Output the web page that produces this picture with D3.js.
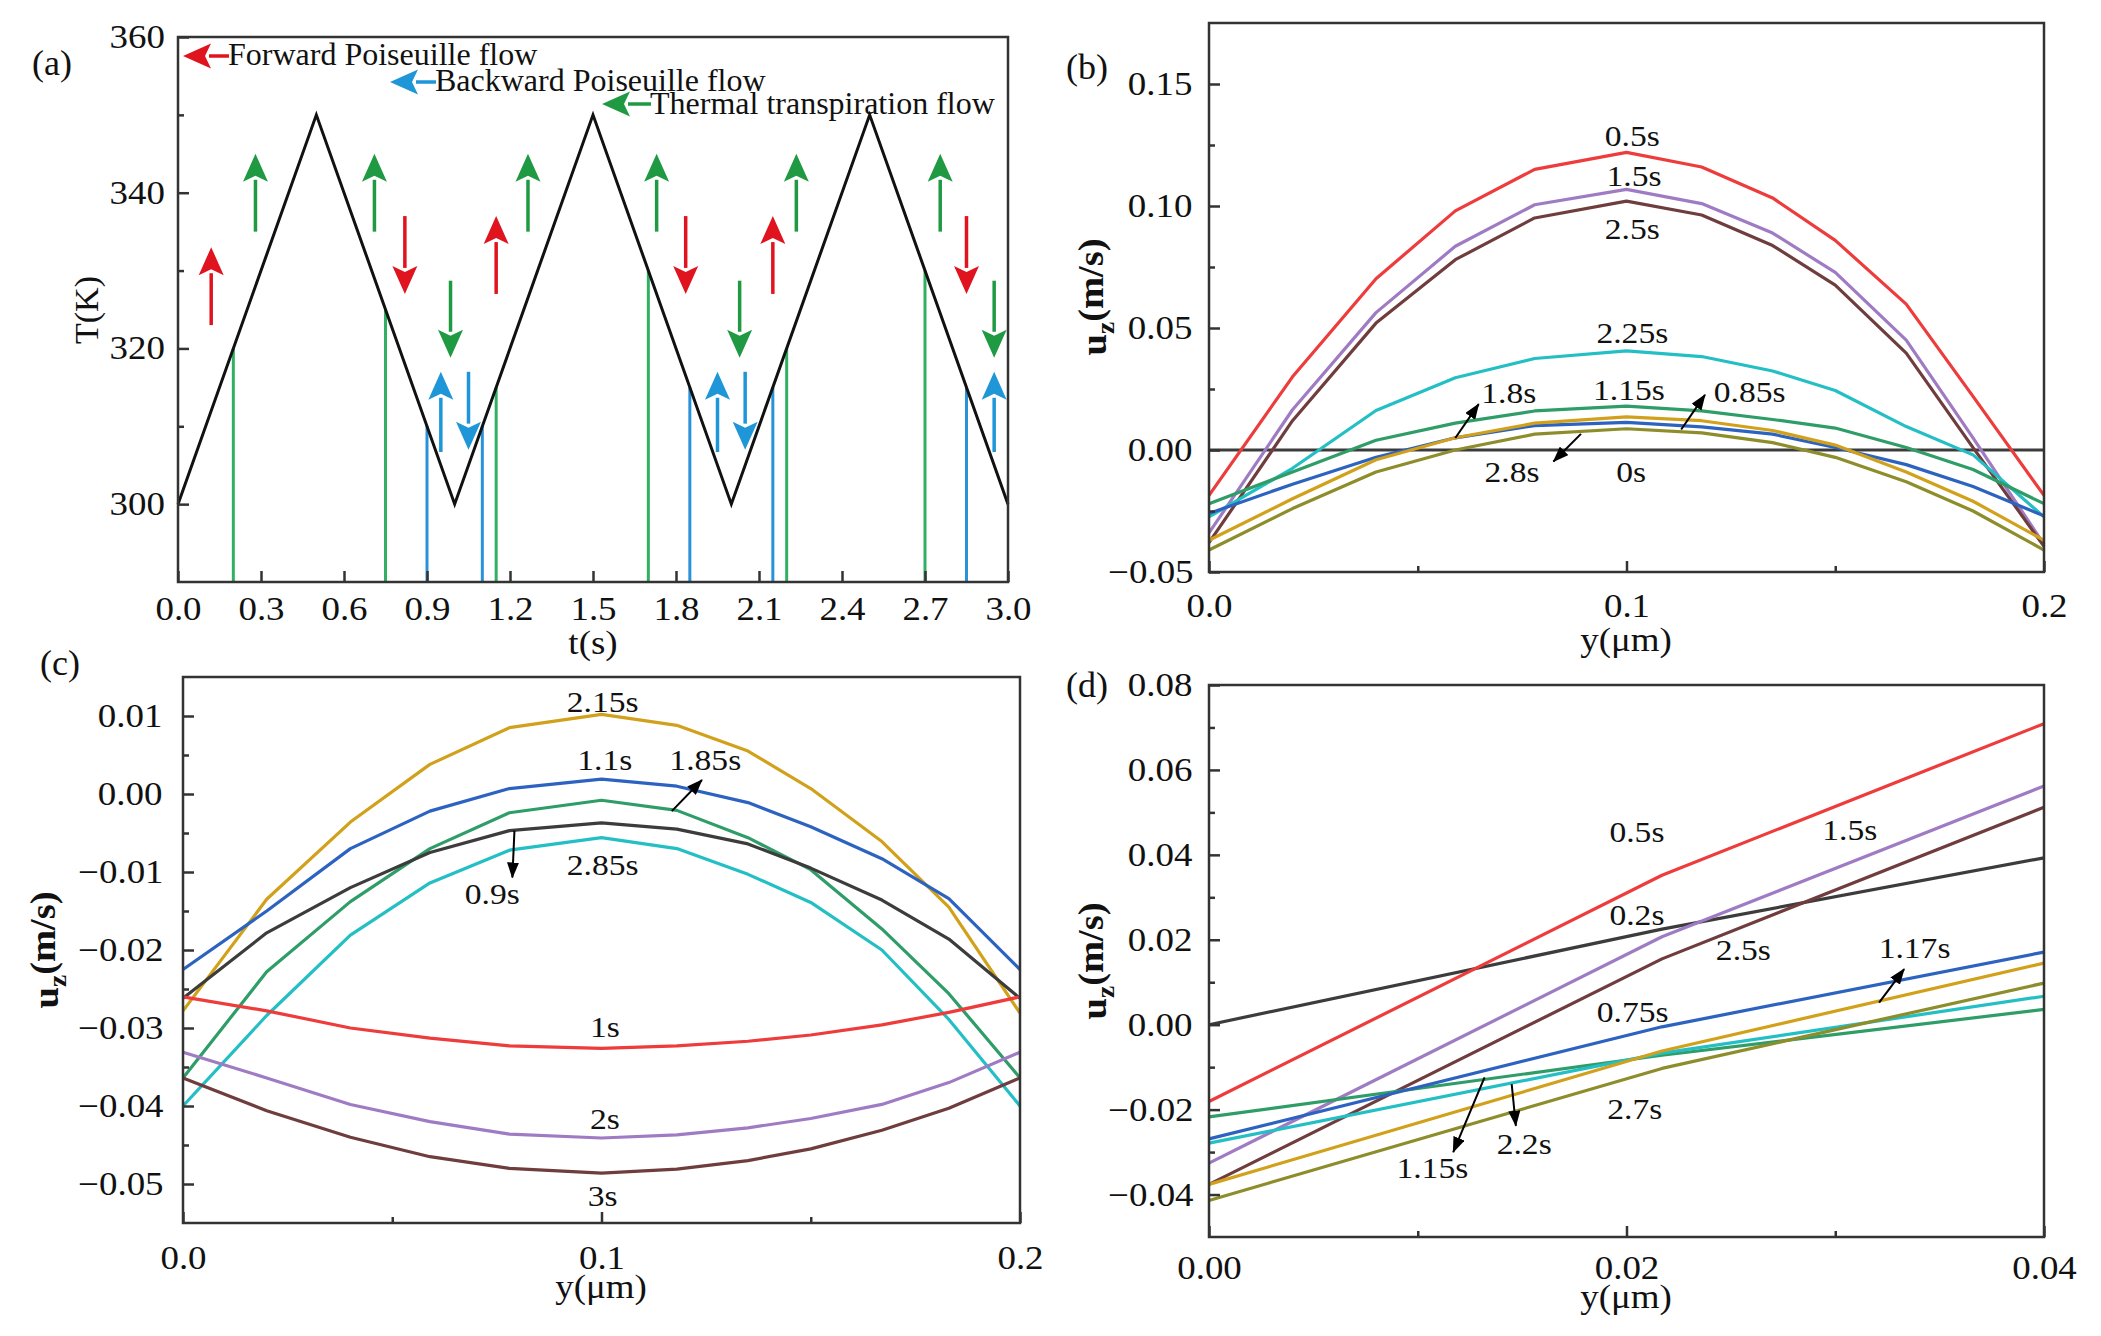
<!DOCTYPE html>
<html>
<head>
<meta charset="utf-8">
<script src="https://cdn.jsdelivr.net/npm/d3@7"></script>
<style>
  body { margin: 0; background: #fff; }
  svg text { font-family: "Liberation Serif", "Times New Roman", serif; fill: #111; }
  .sx { transform-box: fill-box; transform-origin: center; transform: scaleX(1.12); }
</style>
</head>
<body>
<div id="chart"></div>
<script>
// ---------- data ----------
// (a) temperature triangle wave
const tKnots = [0, 0.5, 1, 1.5, 2, 2.5, 3];
const tempKnots = [300, 350, 300, 350, 300, 350, 300];
// vertical marker lines (time, temperature reached)
const greenT = [0.2, 0.75, 1.15, 1.7, 2.2, 2.7];
const greenTop = [320, 325, 315, 330, 320, 330];
const blueT = [0.9, 1.1, 1.85, 2.15, 2.85];
const blueTop = [310, 310, 315, 315, 315];
// flow arrows: time, start T, end T, kind
const arrowT    = [0.12, 0.28, 0.71, 0.82, 0.985, 0.95, 1.05, 1.15, 1.265, 1.73, 1.835, 2.03, 1.95, 2.05, 2.15, 2.235, 2.755, 2.85, 2.95, 2.95];
const arrowFrom = [323, 335, 335, 337, 328.7, 306.7, 317, 327, 335, 335, 337, 328.7, 306.7, 317, 327, 335, 335, 337, 328.7, 306.7];
const arrowTo   = [333, 345, 345, 327, 318.8, 317, 307, 337, 345, 345, 327, 318.8, 317, 307, 337, 345, 345, 327, 318.8, 317];
const arrowKind = ["fwd","th","th","fwd","th","bwd","bwd","fwd","th","th","fwd","th","bwd","bwd","fwd","th","th","fwd","th","bwd"];
const legendNames = ["Forward Poiseuille flow", "Backward Poiseuille flow", "Thermal transpiration flow"];

// (b) and (c) share the wall-normal grid
const yGrid = [0, 0.02, 0.04, 0.059, 0.078, 0.1, 0.118, 0.135, 0.15, 0.167, 0.183, 0.2];

const b0s   = [0, 0, 0, 0, 0, 0, 0, 0, 0, 0, 0, 0];
const b05s  = [-0.0186, 0.030, 0.0702, 0.098, 0.115, 0.122, 0.116, 0.1033, 0.0859, 0.0598, 0.022, -0.0186];
const b15s  = [-0.034, 0.0165, 0.0563, 0.0835, 0.1005, 0.1068, 0.101, 0.0889, 0.0728, 0.045, 0.005, -0.0387];
const b25s  = [-0.038, 0.012, 0.052, 0.078, 0.0951, 0.102, 0.0963, 0.0838, 0.0676, 0.0397, 0.001, -0.0395];
const b225s = [-0.0274, -0.0075, 0.0162, 0.0296, 0.0375, 0.0406, 0.0383, 0.0324, 0.0244, 0.0096, -0.002, -0.0274];
const b115s = [-0.022, -0.009, 0.004, 0.011, 0.016, 0.018, 0.016, 0.0125, 0.009, 0.001, -0.008, -0.022];
const b18s  = [-0.037, -0.020, -0.004, 0.005, 0.011, 0.0136, 0.012, 0.008, 0.002, -0.009, -0.021, -0.037];
const b085s = [-0.026, -0.014, -0.003, 0.005, 0.010, 0.0113, 0.0095, 0.0065, 0.001, -0.006, -0.015, -0.027];
const b28s  = [-0.041, -0.024, -0.009, 0.0, 0.0065, 0.0087, 0.007, 0.003, -0.003, -0.013, -0.025, -0.041];

const c215s = [-0.0278, -0.0135, -0.0036, 0.0038, 0.0085, 0.0102, 0.0088, 0.0055, 0.0007, -0.0061, -0.0145, -0.0281];
const c11s  = [-0.0225, -0.015, -0.007, -0.0022, 0.0007, 0.0019, 0.001, -0.0011, -0.0042, -0.0083, -0.0134, -0.0225];
const c185s = [-0.0364, -0.0228, -0.0138, -0.007, -0.0024, -0.0008, -0.0021, -0.0056, -0.0097, -0.0173, -0.0256, -0.0364];
const c09s  = [-0.0262, -0.0178, -0.012, -0.0075, -0.0047, -0.0037, -0.0045, -0.0064, -0.0095, -0.0136, -0.0186, -0.0262];
const c285s = [-0.040, -0.0284, -0.0181, -0.0114, -0.0072, -0.0056, -0.007, -0.0103, -0.0139, -0.020, -0.0289, -0.040];
const c1s   = [-0.026, -0.0278, -0.030, -0.0313, -0.0323, -0.0326, -0.0323, -0.0317, -0.0309, -0.0296, -0.028, -0.026];
const c2s   = [-0.0331, -0.0364, -0.0398, -0.042, -0.0436, -0.0441, -0.0437, -0.0428, -0.0416, -0.0398, -0.037, -0.0331];
const c3s   = [-0.0364, -0.0406, -0.044, -0.0465, -0.048, -0.0486, -0.0481, -0.047, -0.0455, -0.0431, -0.0403, -0.0364];

// (d) near-wall region
const yNear = [0, 0.0217, 0.04];
const d02s  = [0.0, 0.0225, 0.0393];
const d05s  = [-0.0181, 0.0352, 0.0709];
const d15s  = [-0.0326, 0.0207, 0.0562];
const d25s  = [-0.0376, 0.0155, 0.0512];
const d075s = [-0.0269, -0.0005, 0.0171];
const d22s  = [-0.0376, -0.0062, 0.0145];
const d27s  = [-0.0414, -0.0103, 0.0098];
const d115s = [-0.0279, -0.0067, 0.0067];
const d117s = [-0.0217, -0.0072, 0.0036];

// colours
const cRed = "#ee3b3b", cPurple = "#9f7bc4", cBrown = "#6f3d3d", cCyan = "#23bfc4",
      cGreen = "#2f9d68", cBlue = "#2d63c0", cGold = "#d2a11b", cOlive = "#8d8d2b", cBlack = "#3c3c3c";
const serif = "'Liberation Serif', 'Times New Roman', serif";

// ---------- svg ----------
const W = 2101, H = 1336;
const svg = d3.select("#chart").append("svg")
    .attr("width", W).attr("height", H)
    .style("background", "#fff");

const defs = svg.append("defs");
defs.append("marker")
    .attr("id", "blk")
    .attr("markerUnits", "userSpaceOnUse")
    .attr("markerWidth", 16).attr("markerHeight", 12)
    .attr("refX", 15).attr("refY", 6)
    .attr("orient", "auto")
  .append("path")
    .attr("d", "M0,0 L16,6 L0,12 Z")
    .attr("fill", "#000");

function makePanel(box, xDom, yDom) {
  const g = svg.append("g");
  const x = d3.scaleLinear().domain(xDom).range([box.l, box.r]);
  const y = d3.scaleLinear().domain(yDom).range([box.b, box.t]);
  return { g, x, y, box };
}

function styleAxis(sel) {
  sel.attr("font-family", serif).attr("font-size", 33);
  sel.select(".domain").remove();
  sel.selectAll("line").attr("stroke", "#333").attr("stroke-width", 2.5);
  sel.selectAll("text").attr("class", "sx").attr("fill", "#111").style("font-family", serif);
}

function axes(p, o) {
  const { g, x, y, box } = p;
  // minor ticks first
  g.append("g").attr("transform", `translate(0,${box.b})`)
    .call(d3.axisBottom(x).tickValues(o.xMinor).tickFormat("").tickSize(-6))
    .call(styleAxis);
  g.append("g").attr("transform", `translate(${box.l},0)`)
    .call(d3.axisLeft(y).tickValues(o.yMinor).tickFormat("").tickSize(-6))
    .call(styleAxis);
  g.append("g").attr("transform", `translate(0,${box.b})`)
    .call(d3.axisBottom(x).tickValues(o.xMajor).tickFormat(d3.format(o.xFmt)).tickSize(-11).tickPadding(o.xPad))
    .call(styleAxis);
  g.append("g").attr("transform", `translate(${box.l},0)`)
    .call(d3.axisLeft(y).tickValues(o.yMajor).tickFormat(d3.format(o.yFmt)).tickSize(-11).tickPadding(o.yPad))
    .call(styleAxis);
}

function frame(p) {
  const b = p.box;
  p.g.append("rect")
    .attr("x", b.l).attr("y", b.t)
    .attr("width", b.r - b.l).attr("height", b.b - b.t)
    .attr("fill", "none").attr("stroke", "#333").attr("stroke-width", 2.5);
}

function xTitle(p, txt, cx, baseline) {
  p.g.append("text").attr("x", cx).attr("y", baseline)
    .attr("text-anchor", "middle").attr("font-size", 33).attr("class", "sx")
    .style("font-family", serif)
    .text(txt);
}

function uzTitle(p, cx, cy) {
  const t = p.g.append("g").attr("transform", `translate(${cx},${cy}) rotate(-90) scale(1.1,1)`)
    .append("text").attr("text-anchor", "middle").attr("dy", "0.35em")
    .attr("font-size", 35).attr("font-weight", "bold").style("font-family", serif);
  t.append("tspan").text("u");
  t.append("tspan").attr("dy", "0.3em").attr("font-size", 25).text("z");
  t.append("tspan").attr("dy", "-0.3em").text("(m/s)");
}

function panelTag(txt, x, y) {
  svg.append("text").attr("x", x).attr("y", y).attr("font-size", 36)
    .attr("text-anchor", "middle").style("font-family", serif).text(txt);
}

function drawCurves(p, xs, series) {
  const line = d3.line().x((d, i) => p.x(xs[i])).y(d => p.y(d));
  p.g.append("g").selectAll("path")
    .data(series)
    .join("path")
      .attr("d", s => line(s.values))
      .attr("fill", "none")
      .attr("stroke", s => s.color)
      .attr("stroke-width", 3.2)
      .attr("stroke-linejoin", "round");
}

function curveLabels(p, labels) {
  p.g.append("g").selectAll("text")
    .data(labels)
    .join("text")
      .attr("x", d => p.x(d[1]))
      .attr("y", d => p.y(d[2]))
      .attr("dy", "0.35em")
      .attr("text-anchor", "middle")
      .attr("font-size", 30)
      .attr("class", "sx")
      .style("font-family", serif)
      .text(d => d[0]);
}

function pointers(p, arr) {
  p.g.append("g").selectAll("line")
    .data(arr)
    .join("line")
      .attr("x1", d => p.x(d[0])).attr("y1", d => p.y(d[1]))
      .attr("x2", d => p.x(d[2])).attr("y2", d => p.y(d[3]))
      .attr("stroke", "#000").attr("stroke-width", 2)
      .attr("marker-end", "url(#blk)");
}

// filled-head arrow for panel (a)
function fatArrow(g, x1, y1, x2, y2, color) {
  const len = Math.hypot(x2 - x1, y2 - y1);
  const ux = (x2 - x1) / len, uy = (y2 - y1) / len;
  const hl = 28, hw = 12.5;
  const bx = x2 - ux * hl, by = y2 - uy * hl;
  g.append("line")
    .attr("x1", x1).attr("y1", y1).attr("x2", bx + ux * 2).attr("y2", by + uy * 2)
    .attr("stroke", color).attr("stroke-width", 3.5);
  g.append("path")
    .attr("d", `M${x2},${y2} L${bx - uy * hw},${by + ux * hw} L${bx + ux * 6},${by + uy * 6} L${bx + uy * hw},${by - ux * hw} Z`)
    .attr("fill", color);
}

// ---------- panel (a) ----------
{
  const p = makePanel({ l: 178, r: 1008, t: 37, b: 582 }, [0, 3], [290, 360]);
  const arrowColor = { fwd: "#e0141f", bwd: "#1e96d8", th: "#1f9a42" };

  // vertical marker lines
  p.g.append("g").selectAll("line")
    .data(greenT)
    .join("line")
      .attr("x1", d => p.x(d)).attr("x2", d => p.x(d))
      .attr("y1", p.y(290)).attr("y2", (d, i) => p.y(greenTop[i]))
      .attr("stroke", "#2fb062").attr("stroke-width", 3);
  p.g.append("g").selectAll("line")
    .data(blueT)
    .join("line")
      .attr("x1", d => p.x(d)).attr("x2", d => p.x(d))
      .attr("y1", p.y(290)).attr("y2", (d, i) => p.y(blueTop[i]))
      .attr("stroke", "#2a92da").attr("stroke-width", 3);

  // temperature
  p.g.append("path")
    .datum(tKnots)
    .attr("d", d3.line().x(d => p.x(d)).y((d, i) => p.y(tempKnots[i])))
    .attr("fill", "none").attr("stroke", "#111").attr("stroke-width", 3);

  // flow arrows
  const ag = p.g.append("g");
  arrowT.forEach((t, i) => {
    fatArrow(ag, p.x(t), p.y(arrowFrom[i]), p.x(t), p.y(arrowTo[i]), arrowColor[arrowKind[i]]);
  });

  axes(p, {
    xMajor: d3.range(0, 11).map(i => i * 0.3), xMinor: [], xFmt: ".1f", xPad: 15,
    yMajor: [300, 320, 340, 360], yMinor: [310, 330, 350], yFmt: "d", yPad: 16
  });
  frame(p);

  // legend
  const lg = svg.append("g");
  const legendPos = [[183, 228, 56, 65], [390, 435, 82, 91], [602, 650, 104, 114]];
  const legendColor = [arrowColor.fwd, arrowColor.bwd, arrowColor.th];
  legendNames.forEach((name, i) => {
    const [tip, tail, ay, base] = legendPos[i];
    fatArrow(lg, tail + 1, ay, tip, ay, legendColor[i]);
    lg.append("text").attr("x", tail).attr("y", base).attr("font-size", 32)
      .style("font-family", serif).text(name);
  });

  xTitle(p, "t(s)", 593, 654);
  p.g.append("g").attr("transform", "translate(86,310) rotate(-90)")
    .append("text").attr("text-anchor", "middle").attr("dy", "0.35em")
    .attr("font-size", 34).style("font-family", serif).text("T(K)");
  panelTag("(a)", 52, 75);
}

// ---------- panel (b) ----------
{
  const p = makePanel({ l: 1209, r: 2044, t: 23, b: 572 }, [0, 0.2], [-0.05, 0.175]);
  drawCurves(p, yGrid, [
    { color: cBlack, values: b0s },
    { color: cRed, values: b05s },
    { color: cPurple, values: b15s },
    { color: cBrown, values: b25s },
    { color: cCyan, values: b225s },
    { color: cGreen, values: b115s },
    { color: cBlue, values: b085s },
    { color: cGold, values: b18s },
    { color: cOlive, values: b28s }
  ]);
  axes(p, {
    xMajor: [0, 0.1, 0.2], xMinor: [0.05, 0.15], xFmt: ".1f", xPad: 22,
    yMajor: [-0.05, 0, 0.05, 0.1, 0.15], yMinor: [-0.025, 0.025, 0.075, 0.125], yFmt: ".2f", yPad: 20
  });
  frame(p);
  curveLabels(p, [
    ["0.5s", 0.1014, 0.1289], ["1.5s", 0.1018, 0.1125], ["2.5s", 0.1014, 0.0906],
    ["2.25s", 0.1014, 0.0481], ["1.8s", 0.0718, 0.0237], ["1.15s", 0.1006, 0.0249],
    ["0.85s", 0.1295, 0.024], ["2.8s", 0.0726, -0.0087], ["0s", 0.1011, -0.0087]
  ]);
  pointers(p, [
    [0.059, 0.0049, 0.0646, 0.0188],
    [0.1131, 0.0084, 0.1188, 0.0226],
    [0.0891, 0.0066, 0.0825, -0.0047]
  ]);
  xTitle(p, "y(\u03bcm)", 1626, 651);
  uzTitle(p, 1094, 297);
  panelTag("(b)", 1087, 79);
}

// ---------- panel (c) ----------
{
  const p = makePanel({ l: 183, r: 1020, t: 677, b: 1223 }, [0, 0.2], [-0.055, 0.015]);
  drawCurves(p, yGrid, [
    { color: cGold, values: c215s },
    { color: cBlue, values: c11s },
    { color: cGreen, values: c185s },
    { color: cBlack, values: c09s },
    { color: cCyan, values: c285s },
    { color: cRed, values: c1s },
    { color: cPurple, values: c2s },
    { color: cBrown, values: c3s }
  ]);
  axes(p, {
    xMajor: [0, 0.1, 0.2], xMinor: [0.05, 0.15], xFmt: ".1f", xPad: 23,
    yMajor: [-0.05, -0.04, -0.03, -0.02, -0.01, 0, 0.01],
    yMinor: [-0.045, -0.035, -0.025, -0.015, -0.005, 0.005], yFmt: ".2f", yPad: 24
  });
  frame(p);
  curveLabels(p, [
    ["2.15s", 0.1003, 0.0118], ["1.1s", 0.1008, 0.00445], ["1.85s", 0.1248, 0.00445],
    ["2.85s", 0.1003, -0.0091], ["0.9s", 0.0739, -0.0128], ["1s", 0.1008, -0.0298],
    ["2s", 0.1008, -0.0416], ["3s", 0.1003, -0.0515]
  ]);
  pointers(p, [
    [0.1168, -0.0022, 0.124, 0.0018],
    [0.0792, -0.0047, 0.0787, -0.0107]
  ]);
  xTitle(p, "y(\u03bcm)", 601, 1298);
  uzTitle(p, 46, 950);
  panelTag("(c)", 60, 675);
}

// ---------- panel (d) ----------
{
  const p = makePanel({ l: 1209, r: 2044, t: 685, b: 1237 }, [0, 0.04], [-0.05, 0.08]);
  drawCurves(p, yNear, [
    { color: cBlack, values: d02s },
    { color: cRed, values: d05s },
    { color: cPurple, values: d15s },
    { color: cBrown, values: d25s },
    { color: cGreen, values: d117s },
    { color: cCyan, values: d115s },
    { color: cBlue, values: d075s },
    { color: cGold, values: d22s },
    { color: cOlive, values: d27s }
  ]);
  axes(p, {
    xMajor: [0, 0.02, 0.04], xMinor: [0.01, 0.03], xFmt: ".2f", xPad: 19,
    yMajor: [-0.04, -0.02, 0, 0.02, 0.04, 0.06, 0.08],
    yMinor: [-0.03, -0.01, 0.01, 0.03, 0.05, 0.07], yFmt: ".2f", yPad: 20
  });
  frame(p);
  curveLabels(p, [
    ["0.5s", 0.0205, 0.0455], ["1.5s", 0.0307, 0.046], ["0.2s", 0.0205, 0.0259],
    ["2.5s", 0.0256, 0.0176], ["1.17s", 0.0338, 0.0181], ["0.75s", 0.0203, 0.0031],
    ["2.7s", 0.0204, -0.0197], ["2.2s", 0.0151, -0.0279], ["1.15s", 0.0107, -0.0336]
  ]);
  pointers(p, [
    [0.0321, 0.0052, 0.0333, 0.0131],
    [0.0132, -0.0124, 0.0117, -0.030],
    [0.0145, -0.014, 0.0147, -0.0238]
  ]);
  xTitle(p, "y(\u03bcm)", 1626, 1308);
  uzTitle(p, 1094, 961);
  panelTag("(d)", 1087, 697);
}
</script>
</body>
</html>
